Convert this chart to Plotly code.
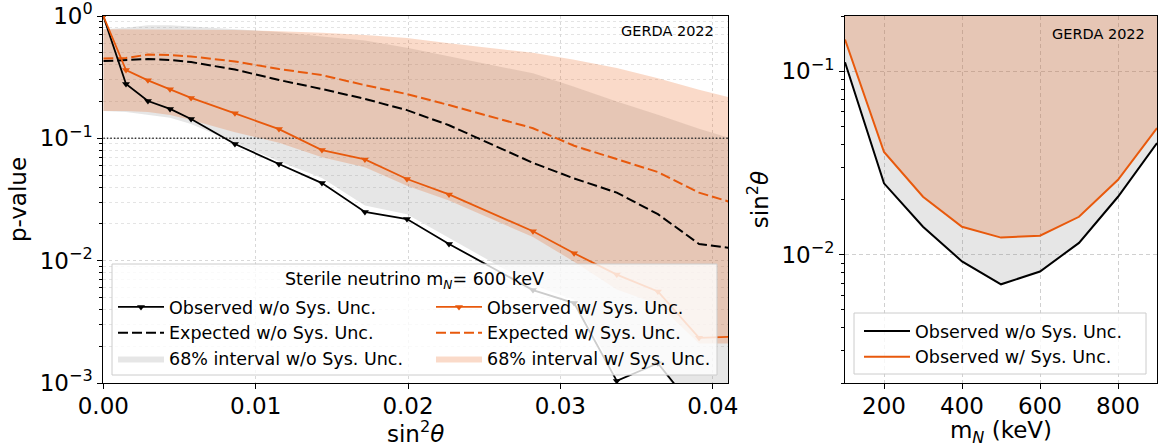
import math
import plotly.graph_objects as go

# ---------------- data: left panel (sterile neutrino m_N = 600 keV) ----------------
sin2theta = [0, 0.00149, 0.00293, 0.00438, 0.00576, 0.00864, 0.01153, 0.01435, 0.01717,
             0.01993, 0.02269, 0.0282, 0.0309, 0.0337, 0.0364, 0.0391, 0.0418]
pval_obs_nosys = [1.0, 0.278, 0.202, 0.174, 0.144, 0.0898, 0.0617, 0.0431, 0.0250,
                  0.0219, 0.0137, 0.00575, 0.0045, 0.00104, 0.00145, 0.00055, 0.0004]
pval_obs_sys = [1.0, 0.362, 0.298, 0.252, 0.214, 0.160, 0.119, 0.0802, 0.0673,
                0.0465, 0.0348, 0.0174, 0.0115, 0.0077, 0.0056, 0.00234, 0.0024]
pval_exp_nosys = [0.428, 0.437, 0.445, 0.437, 0.420, 0.365, 0.300, 0.253, 0.210,
                  0.170, 0.128, 0.063, 0.047, 0.036, 0.024, 0.0137, 0.0124]
pval_exp_sys = [0.449, 0.454, 0.484, 0.480, 0.467, 0.425, 0.369, 0.329, 0.272,
                0.230, 0.187, 0.121, 0.087, 0.068, 0.053, 0.036, 0.0285]
band_nosys_lo = [0.167, 0.164, 0.155, 0.147, 0.131, 0.0917, 0.065, 0.0473, 0.0283,
                 0.0240, 0.0153, 0.0063, 0.0048, 0.00115, 0.0014, 0.0005, 0.0004]
band_nosys_hi = [0.78, 0.80, 0.84, 0.84, 0.82, 0.78, 0.74, 0.68, 0.63,
                 0.55, 0.47, 0.34, 0.264, 0.20, 0.156, 0.12, 0.095]
band_sys_lo = [0.167, 0.167, 0.164, 0.155, 0.141, 0.112, 0.092, 0.070, 0.058,
               0.041, 0.031, 0.0156, 0.0098, 0.0058, 0.0044, 0.0021, 0.0021]
band_sys_hi = [0.78, 0.78, 0.78, 0.78, 0.78, 0.77, 0.75, 0.73, 0.70,
               0.66, 0.60, 0.50, 0.44, 0.375, 0.31, 0.25, 0.205]
p_threshold = 0.1

# ---------------- data: right panel (exclusion vs mass) ----------------
mass_keV = [100, 200, 300, 400, 500, 600, 700, 800, 900]
sin2_obs_nosys = [0.112, 0.0245, 0.0142, 0.0092, 0.0069, 0.0081, 0.0116, 0.0207, 0.0406]
sin2_obs_sys = [0.149, 0.0363, 0.0207, 0.0142, 0.0124, 0.0127, 0.0161, 0.0256, 0.049]

# ---------------- ticks ----------------
xl_tickvals = [0.0, 0.01, 0.02, 0.03, 0.04]
xl_ticktext = ["0.00", "0.01", "0.02", "0.03", "0.04"]
yl_tickvals = [1e-3, 1e-2, 1e-1, 1.0]
yl_ticktext = ["10<sup>−3</sup>", "10<sup>−2</sup>", "10<sup>−1</sup>", "10<sup>0</sup>"]
xr_tickvals = [200, 400, 600, 800]
yr_tickvals = [1e-2, 1e-1]
yr_ticktext = ["10<sup>−2</sup>", "10<sup>−1</sup>"]

XL_RANGE = [0.0, 0.041]
YL_RANGE = [-3, 0.0001]
XR_RANGE = [100, 900]
YR_RANGE = [math.log10(0.002), math.log10(0.2)]

# ---------------- style ----------------
W, H = 1161, 447
BLACK = "black"
ORANGE = "#e8590c"
GREY_FILL = "rgba(128,128,128,0.2)"
ORANGE_FILL = "rgba(232,95,20,0.23)"
FONT = "DejaVu Sans"
TICK_SIZE = 23
LEG_SIZE = 17.5


def fx(px):
    """page pixel x -> paper fraction"""
    return px / W


def fy(py):
    """page pixel y (from top) -> paper fraction"""
    return 1 - py / H


fig = go.Figure()

# ---- left panel: bands ----
fig.add_trace(go.Scatter(
    x=sin2theta + sin2theta[::-1], y=band_nosys_hi + band_nosys_lo[::-1],
    fill="toself", fillcolor=GREY_FILL, line=dict(width=0), mode="lines",
    name="68% interval w/o Sys. Unc.", legend="legend", legendrank=3,
    hoverinfo="skip", xaxis="x", yaxis="y"))
fig.add_trace(go.Scatter(
    x=sin2theta + sin2theta[::-1], y=band_sys_hi + band_sys_lo[::-1],
    fill="toself", fillcolor=ORANGE_FILL, line=dict(width=0), mode="lines",
    name="68% interval w/ Sys. Unc.", legend="legend2", legendrank=3,
    hoverinfo="skip", xaxis="x", yaxis="y"))

# ---- threshold line ----
fig.add_trace(go.Scatter(
    x=XL_RANGE, y=[p_threshold, p_threshold], mode="lines",
    line=dict(color="#333333", width=1.5, dash="1.5px,2px"),
    showlegend=False, hoverinfo="skip", xaxis="x", yaxis="y"))

# ---- expected ----
fig.add_trace(go.Scatter(
    x=sin2theta, y=pval_exp_nosys, mode="lines",
    line=dict(color=BLACK, width=2, dash="10px,4px"),
    name="Expected w/o Sys. Unc.", legend="legend", legendrank=2,
    xaxis="x", yaxis="y"))
fig.add_trace(go.Scatter(
    x=sin2theta, y=pval_exp_sys, mode="lines",
    line=dict(color=ORANGE, width=2, dash="10px,4px"),
    name="Expected w/ Sys. Unc.", legend="legend2", legendrank=2,
    xaxis="x", yaxis="y"))

# ---- observed ----
fig.add_trace(go.Scatter(
    x=sin2theta, y=pval_obs_nosys, mode="lines+markers",
    line=dict(color=BLACK, width=1.8),
    marker=dict(symbol="triangle-down", size=7, color=BLACK),
    name="Observed w/o Sys. Unc.", legend="legend", legendrank=1,
    xaxis="x", yaxis="y"))
fig.add_trace(go.Scatter(
    x=sin2theta, y=pval_obs_sys, mode="lines+markers",
    line=dict(color=ORANGE, width=1.8),
    marker=dict(symbol="triangle-down", size=7, color=ORANGE),
    name="Observed w/ Sys. Unc.", legend="legend2", legendrank=1,
    xaxis="x", yaxis="y"))

# ---- right panel: excluded regions ----
ceiling = 10 ** YR_RANGE[1]
fig.add_trace(go.Scatter(
    x=mass_keV + [mass_keV[-1], mass_keV[0]], y=sin2_obs_nosys + [ceiling, ceiling],
    fill="toself", fillcolor=GREY_FILL, line=dict(width=0), mode="lines",
    showlegend=False, hoverinfo="skip", xaxis="x2", yaxis="y2"))
fig.add_trace(go.Scatter(
    x=mass_keV + [mass_keV[-1], mass_keV[0]], y=sin2_obs_sys + [ceiling, ceiling],
    fill="toself", fillcolor=ORANGE_FILL, line=dict(width=0), mode="lines",
    showlegend=False, hoverinfo="skip", xaxis="x2", yaxis="y2"))
fig.add_trace(go.Scatter(
    x=mass_keV, y=sin2_obs_nosys, mode="lines", line=dict(color=BLACK, width=2),
    name="Observed w/o Sys. Unc.", legend="legend3", xaxis="x2", yaxis="y2"))
fig.add_trace(go.Scatter(
    x=mass_keV, y=sin2_obs_sys, mode="lines", line=dict(color=ORANGE, width=2),
    name="Observed w/ Sys. Unc.", legend="legend3", xaxis="x2", yaxis="y2"))

# ---------------- axes ----------------
common = dict(ticks="outside", ticklen=5, tickwidth=1, tickcolor=BLACK,
              showline=True, linecolor=BLACK, linewidth=1, mirror=True,
              zeroline=False, automargin=False, ticklabeloverflow="allow",
              tickfont=dict(size=TICK_SIZE, family=FONT, color=BLACK))

yl_minor = [m * 10 ** e for e in (-3, -2, -1) for m in range(2, 10)]
yr_minor = [m * 10 ** e for e in (-3, -2, -1) for m in range(2, 10)]

fig.update_layout(
    xaxis=dict(domain=[fx(103.3), fx(728)], range=XL_RANGE, anchor="y",
               tickmode="array", tickvals=xl_tickvals, ticktext=xl_ticktext,
               ticklabelstandoff=-3,
               showgrid=True, gridcolor="#d8d8d8", griddash="dot", gridwidth=1,
               title=dict(text="sin<sup>2</sup><i>θ</i>", font=dict(size=TICK_SIZE), standoff=0),
               **common),
    yaxis=dict(domain=[fy(383), fy(16)], type="log", range=YL_RANGE, anchor="x",
               tickmode="array", tickvals=yl_tickvals, ticktext=yl_ticktext,
               showgrid=True, gridcolor="#d8d8d8", griddash="dot", gridwidth=1,
               minor=dict(tickmode="array", tickvals=yl_minor, ticks="outside", ticklen=3,
                          tickcolor=BLACK, showgrid=True, gridcolor="#e4e4e4", griddash="dot"),
               title=dict(text="p-value", font=dict(size=TICK_SIZE), standoff=6),
               **common),
    xaxis2=dict(domain=[fx(845), fx(1157)], range=XR_RANGE, anchor="y2",
                tickmode="array", tickvals=xr_tickvals,
                ticklabelstandoff=-3,
                showgrid=True, gridcolor="#d0d0d0", griddash="4px,3px", gridwidth=1,
                title=dict(text="m<sub><i>N</i></sub> (keV)", font=dict(size=TICK_SIZE), standoff=0),
                **common),
    yaxis2=dict(domain=[fy(383), fy(16)], type="log", range=YR_RANGE, anchor="x2",
                tickmode="array", tickvals=yr_tickvals, ticktext=yr_ticktext,
                showgrid=True, gridcolor="#d0d0d0", griddash="4px,3px", gridwidth=1,
                minor=dict(tickmode="array", tickvals=yr_minor, ticks="outside", ticklen=3,
                           tickcolor=BLACK, showgrid=False),
                title=dict(text="sin<sup>2</sup><i>θ</i>", font=dict(size=TICK_SIZE), standoff=6),
                **common),
)

# ---------------- legends ----------------
leg_common = dict(font=dict(size=LEG_SIZE, family=FONT, color=BLACK),
                  bgcolor="rgba(0,0,0,0)", borderwidth=0, xanchor="left", yanchor="top",
                  orientation="v", itemwidth=46, tracegroupgap=0)
fig.update_layout(
    legend=dict(x=fx(113), y=fy(289), **leg_common),
    legend2=dict(x=fx(431), y=fy(289), **leg_common),
    legend3=dict(x=fx(859), y=fy(313), **leg_common),
)

# legend frames (box) drawn above the data, legends on top of them
fig.add_shape(type="rect", xref="paper", yref="paper",
              x0=fx(112), x1=fx(717), y0=fy(375), y1=fy(264),
              fillcolor="rgba(255,255,255,0.8)", line=dict(color="#cccccc", width=1),
              layer="above")
fig.add_shape(type="rect", xref="paper", yref="paper",
              x0=fx(854), x1=fx(1146), y0=fy(374), y1=fy(313),
              fillcolor="rgba(255,255,255,0.8)", line=dict(color="#cccccc", width=1),
              layer="above")
fig.add_annotation(xref="paper", yref="paper", x=fx(414.5), y=fy(280),
                   text="Sterile neutrino m<sub><i>N</i></sub>= 600 keV", showarrow=False,
                   xanchor="center", yanchor="middle",
                   font=dict(size=LEG_SIZE, family=FONT, color=BLACK))

# experiment labels
fig.add_annotation(xref="paper", yref="paper", x=fx(716), y=fy(30.5), text="GERDA 2022",
                   showarrow=False, xanchor="right", yanchor="middle",
                   font=dict(size=14.5, family=FONT, color=BLACK))
fig.add_annotation(xref="paper", yref="paper", x=fx(1147), y=fy(34), text="GERDA 2022",
                   showarrow=False, xanchor="right", yanchor="middle",
                   font=dict(size=14.5, family=FONT, color=BLACK))

fig.update_layout(
    width=W, height=H, margin=dict(l=0, r=0, t=0, b=0),
    paper_bgcolor="white", plot_bgcolor="white",
    font=dict(family=FONT, color=BLACK, size=TICK_SIZE),
)

# remove the browser's default page margin so the figure fills the window exactly
fig.write_html("out.html",
               config={"displayModeBar": False},
               post_script="document.body.style.margin='0';document.body.style.overflow='hidden';")
